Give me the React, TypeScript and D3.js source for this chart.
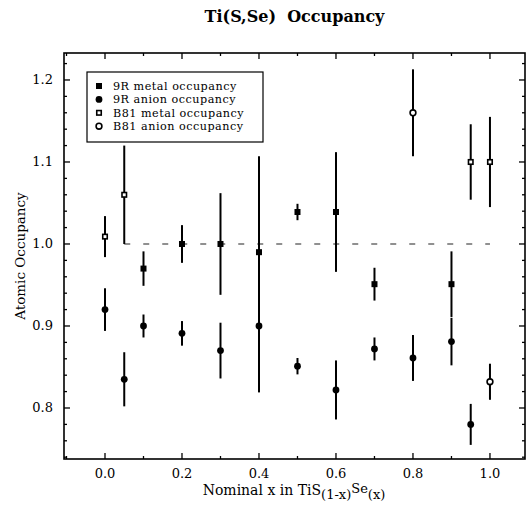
import React from "react";
import * as d3 from "d3";

// ---- data ----
const metal9RX = [0.1, 0.2, 0.3, 0.4, 0.5, 0.6, 0.7, 0.9];
const metal9RY = [0.97, 1.0, 1.0, 0.99, 1.039, 1.039, 0.951, 0.951];
const metal9RErr = [0.021, 0.023, 0.062, 0.117, 0.01, 0.073, 0.02, 0.04];

const anion9RX = [0.0, 0.05, 0.1, 0.2, 0.3, 0.4, 0.5, 0.6, 0.7, 0.8, 0.9, 0.95];
const anion9RY = [0.92, 0.835, 0.9, 0.891, 0.87, 0.9, 0.851, 0.822, 0.872, 0.861, 0.881, 0.78];
const anion9RErr = [0.026, 0.033, 0.014, 0.015, 0.034, 0.081, 0.01, 0.036, 0.014, 0.028, 0.029, 0.025];

const metalB81X = [0.0, 0.05, 0.95, 1.0];
const metalB81Y = [1.009, 1.06, 1.1, 1.1];
const metalB81Err = [0.025, 0.06, 0.046, 0.055];

const anionB81X = [0.8, 1.0];
const anionB81Y = [1.16, 0.832];
const anionB81Err = [0.053, 0.022];

const refLineX = [0.05, 1.0];
const refLineY = 1.0;

const xTickValues = [0.0, 0.2, 0.4, 0.6, 0.8, 1.0];
const yTickValues = [0.8, 0.9, 1.0, 1.1, 1.2];

const legendLabels = [
  "9R metal occupancy",
  "9R anion occupancy",
  "B81 metal occupancy",
  "B81 anion occupancy",
];
const legendKinds = ["fsq", "fci", "osq", "oci"];

const titleText = "Ti(S,Se)\u00a0\u00a0Occupancy";
const yLabelText = "Atomic Occupancy";

// ---- layout ----
const L = 64, R = 525, T = 53, B = 459;
const x = d3.scaleLinear().domain([-0.1065, 1.091]).range([L, R]);
const y = d3.scaleLinear().domain([0.7378, 1.2329]).range([B, T]);

const serif = "'DejaVu Serif', serif";

function Marker({ kind, cx, cy }: { kind: string; cx: number; cy: number }) {
  const s = 6;
  if (kind === "fsq")
    return <rect x={cx - s / 2} y={cy - s / 2} width={s} height={s} fill="#000" />;
  if (kind === "osq")
    return (
      <rect x={cx - s / 2 + 0.75} y={cy - s / 2 + 0.75} width={s - 1.5} height={s - 1.5}
        fill="#fff" stroke="#000" strokeWidth={1.6} />
    );
  if (kind === "fci") return <circle cx={cx} cy={cy} r={3.4} fill="#000" />;
  return <circle cx={cx} cy={cy} r={2.9} fill="#fff" stroke="#000" strokeWidth={1.6} />;
}

function Series({ xs, ys, errs, kind }: { xs: number[]; ys: number[]; errs: number[]; kind: string }) {
  return (
    <g>
      {xs.map((xv, i) => (
        <line key={"e" + i} x1={x(xv)} x2={x(xv)} y1={y(ys[i] + errs[i])} y2={y(ys[i] - errs[i])}
          stroke="#000" strokeWidth={2} />
      ))}
      {xs.map((xv, i) => (
        <Marker key={"m" + i} kind={kind} cx={x(xv)} cy={y(ys[i])} />
      ))}
    </g>
  );
}

export default function App() {
  const xMinorAll = d3.range(-1, 11).map((i) => i / 10).filter((v) => x(v) > L && x(v) < R);
  const yMinorAll = d3.range(37, 62).map((i) => i / 50).filter((v) => y(v) > T + 1 && y(v) < B - 1);
  const isMajorX = (v: number) => Math.abs(Math.round(v * 5) - v * 5) < 1e-6;
  const isMajorY = (v: number) => Math.abs(Math.round(v * 10) - v * 10) < 1e-6;

  return (
    <svg width={530} height={508} style={{ display: "block", position: "absolute", left: 0, top: 0 }}
      fontFamily={serif}>
      <rect width={530} height={508} fill="#fff" />
      {/* title */}
      <text x={(L + R) / 2} y={22} textAnchor="middle" fontSize={16} fontWeight="bold">
        {titleText}
      </text>

      {/* reference dashed line */}
      <line x1={x(refLineX[0])} x2={x(refLineX[1])} y1={y(refLineY)} y2={y(refLineY)}
        stroke="#222" strokeWidth={1.2} strokeDasharray="6,13" />

      {/* ticks */}
      {xMinorAll.map((v, i) => {
        const len = isMajorX(v) ? 6 : 3;
        return (
          <g key={"xt" + i}>
            <line x1={x(v)} x2={x(v)} y1={B} y2={B - len} stroke="#000" strokeWidth={1.3} />
            <line x1={x(v)} x2={x(v)} y1={T} y2={T + len} stroke="#000" strokeWidth={1.3} />
          </g>
        );
      })}
      {yMinorAll.map((v, i) => {
        const len = isMajorY(v) ? 6 : 3;
        return (
          <g key={"yt" + i}>
            <line x1={L} x2={L + len} y1={y(v)} y2={y(v)} stroke="#000" strokeWidth={1.3} />
            <line x1={R} x2={R - len} y1={y(v)} y2={y(v)} stroke="#000" strokeWidth={1.3} />
          </g>
        );
      })}

      {/* frame */}
      <rect x={L} y={T} width={R - L} height={B - T} fill="none" stroke="#000" strokeWidth={1.6} />

      {/* tick labels */}
      {xTickValues.map((v) => (
        <text key={"xl" + v} x={x(v)} y={478} textAnchor="middle" fontSize={13}>
          {d3.format(".1f")(v)}
        </text>
      ))}
      {yTickValues.map((v) => (
        <text key={"yl" + v} x={53} y={y(v) + 4.5} textAnchor="end" fontSize={13}>
          {d3.format(".1f")(v)}
        </text>
      ))}

      {/* axis labels */}
      <text x={294} y={495} textAnchor="middle" fontSize={14}>
        <tspan>Nominal x in TiS</tspan>
        <tspan dy={4} fontSize={13}>(1-x)</tspan>
        <tspan dy={-6} fontSize={13}>Se</tspan>
        <tspan dy={6} fontSize={13}>(x)</tspan>
      </text>
      <text transform="translate(25,256) rotate(-90)" textAnchor="middle" fontSize={13.5}>
        {yLabelText}
      </text>

      {/* data */}
      <Series xs={metal9RX} ys={metal9RY} errs={metal9RErr} kind="fsq" />
      <Series xs={anion9RX} ys={anion9RY} errs={anion9RErr} kind="fci" />
      <Series xs={metalB81X} ys={metalB81Y} errs={metalB81Err} kind="osq" />
      <Series xs={anionB81X} ys={anionB81Y} errs={anionB81Err} kind="oci" />

      {/* legend */}
      <rect x={87} y={72} width={176} height={70} fill="#fff" stroke="#000" strokeWidth={1.2} />
      {legendLabels.map((lab, i) => (
        <g key={"lg" + i}>
          <Marker kind={legendKinds[i]} cx={99} cy={86 + i * 13.4} />
          <text x={113} y={86 + i * 13.4 + 3.8} fontSize={11.2} letterSpacing={0.5}>
            {lab}
          </text>
        </g>
      ))}
    </svg>
  );
}
